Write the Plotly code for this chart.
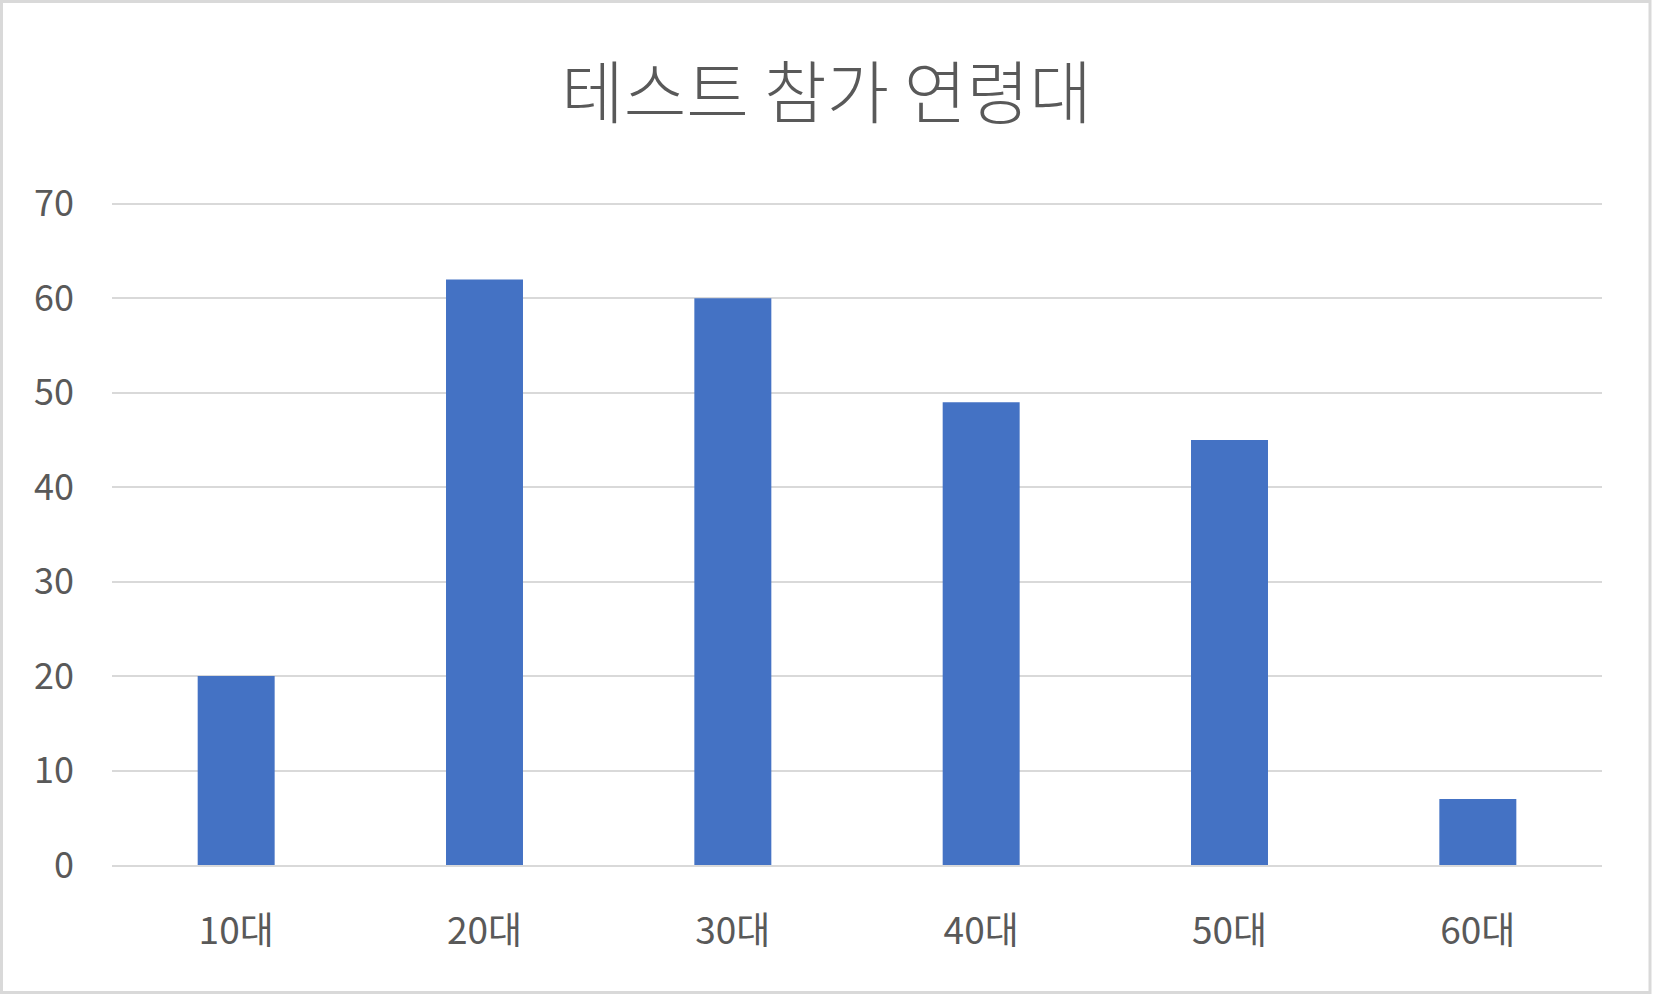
import plotly.graph_objects as go

categories = ["10대", "20대", "30대", "40대", "50대", "60대"]
values = [20, 62, 60, 49, 45, 7]
title_text = "테스트 참가 연령대"

W, H = 1653, 994
L, R, T, B = 112, 51, 202, 129
pw, ph = W - L - R, H - T - B

font = "Noto Sans CJK KR, Noto Sans, sans-serif"
txt = "#595959"

fig = go.Figure(go.Bar(x=categories, y=values, marker=dict(color="#4472c4", line=dict(width=0)), width=0.31))

def px_x(p):
    return (p - L) / pw

def px_y(p):
    return (H - B - p) / ph

fig.update_layout(
    width=W, height=H,
    margin=dict(l=L, r=R, t=T, b=B),
    paper_bgcolor="white", plot_bgcolor="white",
    title=dict(text=title_text, x=0.5, xanchor="center", y=1 - 94 / H, yanchor="middle",
               font=dict(family=font, size=68, color=txt, weight=300)),
    font=dict(family=font, color=txt),
    showlegend=False,
    hovermode=False,
    shapes=[dict(type="rect", xref="paper", yref="paper",
                 x0=px_x(1.5), x1=px_x(1650), y0=px_y(1.5), y1=px_y(992.5),
                 line=dict(color="#d9d9d9", width=3), layer="below")],
)
fig.update_yaxes(range=[0, 70.2], tickvals=[0, 10, 20, 30, 40, 50, 60, 70], showgrid=True,
                 gridcolor="#d9d9d9", gridwidth=2,
                 zeroline=False, showline=False, tickfont=dict(family=font, size=36, color=txt),
                 ticklabelstandoff=37)
fig.update_xaxes(showgrid=False, showline=True, linecolor="#d9d9d9", linewidth=2,
                 tickfont=dict(family=font, size=37, color=txt), ticklabelstandoff=33)

fig.write_html("out.html", config={"displayModeBar": False},
               post_script="document.body.style.margin='0';")
